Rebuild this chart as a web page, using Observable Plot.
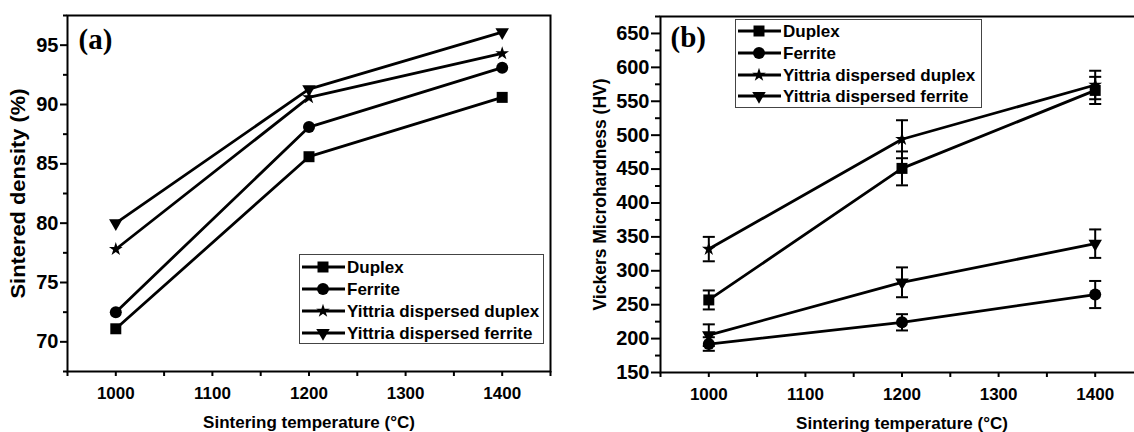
<!DOCTYPE html>
<html><head><meta charset="utf-8">
<script src="https://cdn.jsdelivr.net/npm/d3@7"></script>
<script src="https://cdn.jsdelivr.net/npm/@observablehq/plot@0.6"></script>
<style>
body{margin:0;background:#fff;}
#wrap{position:relative;width:1134px;height:432px;overflow:hidden;background:#fff;}
#wrap svg{position:absolute;top:0;}
</style></head><body><div id="wrap"></div>
<script>
// ---- data ----
const temperatures = [1000, 1200, 1400];
const seriesNames = ["Duplex", "Ferrite", "Yittria dispersed duplex", "Yittria dispersed ferrite"];
// (a) sintered density (%)
const densityDuplex = [71.1, 85.6, 90.6];
const densityFerrite = [72.5, 88.1, 93.1];
const densityYDuplex = [77.8, 90.6, 94.3];
const densityYFerrite = [80.0, 91.3, 96.1];
// (b) Vickers microhardness (HV) and error
const hardnessDuplex = [257, 451, 566];
const hardnessFerrite = [192, 224, 265];
const hardnessYDuplex = [332, 494, 574];
const hardnessYFerrite = [205, 283, 340];
const errDuplex = [14, 25, 20];
const errFerrite = [10, 12, 20];
const errYDuplex = [18, 28, 21];
const errYFerrite = [16, 22, 21];
// ticks
const xTicks = [1000, 1100, 1200, 1300, 1400];
const xMinorTicks = [950, 1050, 1150, 1250, 1350, 1450];
const densityTicks = [70, 75, 80, 85, 90, 95];
const densityMinorTicks = [67.5, 72.5, 77.5, 82.5, 87.5, 92.5, 97.5];
const hardnessTicks = [150, 200, 250, 300, 350, 400, 450, 500, 550, 600, 650];
const hardnessMinorTicks = [175, 225, 275, 325, 375, 425, 475, 525, 575, 625, 675];
const xTitle = "Sintering temperature (\u00B0C)";

// ---- symbols ----
const triangleDown = {draw(ctx, size) {
  const a = Math.sqrt(size * 4 / Math.sqrt(3)), h = a * Math.sqrt(3) / 2;
  ctx.moveTo(-a / 2, -h / 3); ctx.lineTo(a / 2, -h / 3); ctx.lineTo(0, 2 * h / 3); ctx.closePath();
}};
const capSymbol = {draw(ctx, size) { const w = Math.sqrt(size) / 2; ctx.moveTo(-w, 0); ctx.lineTo(w, 0); }};
const styles = [
  {symbol: d3.symbolSquare, r: 6.2},
  {symbol: d3.symbolCircle, r: 6},
  {symbol: d3.symbolStar, r: 4.3},
  {symbol: triangleDown, r: 5}
];

function rows(valueArrays, errArrays) {
  return seriesNames.flatMap((s, k) => temperatures.map((t, i) => ({
    series: s, k, t, v: valueArrays[k][i], e: errArrays ? errArrays[k][i] : 0
  })));
}
const densityData = rows([densityDuplex, densityFerrite, densityYDuplex, densityYFerrite]);
const hardnessData = rows([hardnessDuplex, hardnessFerrite, hardnessYDuplex, hardnessYFerrite],
                          [errDuplex, errFerrite, errYDuplex, errYFerrite]);

const font = "'Liberation Sans', Arial, sans-serif";

function panel(o) {
  const marks = [
    Plot.axisX({ticks: xTicks, tickSize: 5, tickPadding: 10, tickFormat: "d", label: null, strokeWidth: 2}),
    Plot.axisX({ticks: xMinorTicks, tickSize: 5, tickFormat: () => "", label: null, strokeWidth: 2}),
    Plot.axisY({ticks: o.yTicks, tickSize: o.yTickSize, tickPadding: 2, tickFormat: "d", label: null, strokeWidth: 2, fontSize: 20}),
    Plot.axisY({ticks: o.yMinor, tickSize: o.yMinorSize, tickFormat: () => "", label: null, strokeWidth: 2}),
    Plot.text([xTitle], {frameAnchor: "bottom", dy: 51, lineAnchor: "middle", textAnchor: "middle", fontSize: 17}),
    Plot.text([o.yLabel], {frameAnchor: "left", dx: o.titleDx, rotate: -90, textAnchor: "middle", lineAnchor: "middle", fontSize: o.titleSize}),
    Plot.text([o.tag], {frameAnchor: "top-left", dx: o.tagDx, dy: o.tagDy, lineAnchor: "bottom", textAnchor: "start",
      fontFamily: "'Liberation Serif', 'Times New Roman', serif", fontSize: 29, fontWeight: "bold"}),
    Plot.line(o.data, {x: "t", y: "v", z: "series", stroke: "black", strokeWidth: 2.8})
  ];
  if (o.errors) {
    marks.push(
      Plot.ruleX(o.data, {x: "t", y1: d => d.v - d.e, y2: d => d.v + d.e, stroke: "black", strokeWidth: 2}),
      Plot.dot(o.data, {x: "t", y: d => d.v - d.e, symbol: capSymbol, r: 6.8, stroke: "black", strokeWidth: 2, fill: "none"}),
      Plot.dot(o.data, {x: "t", y: d => d.v + d.e, symbol: capSymbol, r: 6.8, stroke: "black", strokeWidth: 2, fill: "none"})
    );
  }
  styles.forEach((st, k) => {
    marks.push(Plot.dot(o.data.filter(d => d.k === k), {x: "t", y: "v", symbol: st.symbol, r: st.r, fill: "black", stroke: "none"}));
  });
  marks.push(Plot.frame({stroke: "black", strokeWidth: 2}));
  const svg = Plot.plot({
    width: o.width, height: 432,
    marginLeft: o.marginLeft, marginRight: o.marginRight, marginTop: o.marginTop, marginBottom: o.marginBottom,
    x: {domain: [950, 1450]},
    y: {domain: o.yDomain},
    style: `font-family:${font};font-size:17px;font-weight:bold;color:black;background:transparent;max-width:none;overflow:visible;`,
    marks
  });
  svg.style.left = o.left + "px";
  // stretch the y title to the length seen in the reference
  svg.querySelectorAll("text").forEach(t => {
    if (t.textContent === o.yLabel) { t.setAttribute("textLength", o.titleLength); t.setAttribute("lengthAdjust", "spacingAndGlyphs"); }
  });
  return svg;
}

function legend(left, top, width, height, rowTops) {
  const ns = "http://www.w3.org/2000/svg";
  const svg = document.createElementNS(ns, "svg");
  svg.setAttribute("width", width + 2); svg.setAttribute("height", height + 2);
  svg.style.left = left + "px"; svg.style.top = top + "px"; svg.style.overflow = "visible";
  const g = d3.select(svg);
  g.append("rect").attr("x", 0.5).attr("y", 0.5).attr("width", width).attr("height", height)
    .attr("fill", "white").attr("stroke", "#444").attr("stroke-width", 1);
  seriesNames.forEach((name, k) => {
    const cy = rowTops[k];
    g.append("line").attr("x1", 3).attr("x2", 46).attr("y1", cy).attr("y2", cy).attr("stroke", "black").attr("stroke-width", 2.8);
    g.append("path").attr("transform", `translate(24,${cy})`).attr("fill", "black")
      .attr("d", d3.symbol(styles[k].symbol, Math.PI * styles[k].r * styles[k].r)());
    g.append("text").attr("x", 48).attr("y", cy).attr("dy", "0.35em").attr("font-family", font)
      .attr("font-size", 17).attr("font-weight", "bold").attr("fill", "black").text(name);
  });
  return svg;
}

const wrap = document.getElementById("wrap");
wrap.append(panel({
  left: 0, width: 570, marginLeft: 67, marginRight: 20, marginTop: 15, marginBottom: 61,
  data: densityData, yDomain: [67.5, 97.5], yTicks: densityTicks, yMinor: densityMinorTicks,
  yTickSize: 7, yMinorSize: 4, yLabel: "Sintered density (%)", titleDx: -49, titleSize: 20, titleLength: 210,
  tag: "(a)", tagDx: 11, tagDy: 33
}));
wrap.append(panel({
  left: 570, width: 600, marginLeft: 90, marginRight: 27, marginTop: 16, marginBottom: 60,
  data: hardnessData, yDomain: [150, 675], yTicks: hardnessTicks, yMinor: hardnessMinorTicks,
  yTickSize: 9, yMinorSize: 5, yLabel: "Vickers Microhardness (HV)", titleDx: -60, titleSize: 18, titleLength: 232,
  tag: "(b)", tagDx: 10, tagDy: 30,
  errors: true
}));
wrap.append(legend(299, 254, 244, 89, [13, 35, 57, 79]));
wrap.append(legend(735, 19, 246, 88, [12, 34, 56, 77]));
</script></body></html>
